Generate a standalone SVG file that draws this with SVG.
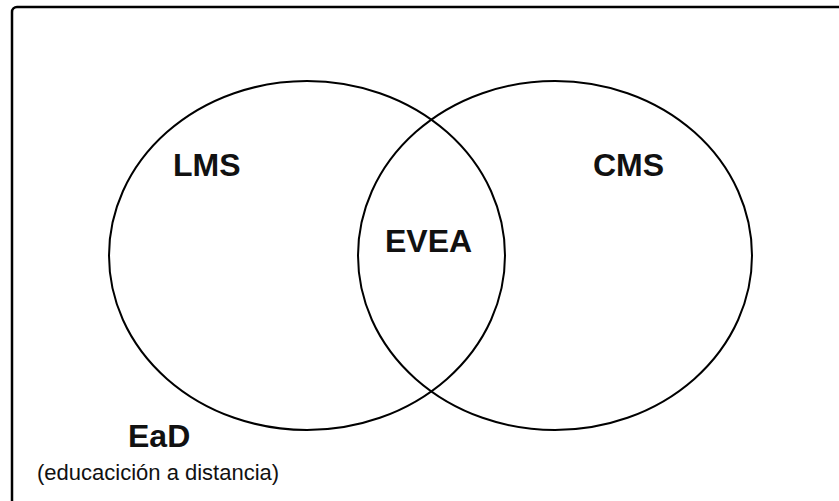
<svg xmlns="http://www.w3.org/2000/svg" width="839" height="501" viewBox="0 0 839 501">
<style>
.set{fill:none;stroke:#000;stroke-width:2}
.lbl{font-family:"Liberation Sans",Arial,sans-serif;font-weight:bold;font-size:32px;fill:#111}
.cap{font-family:"Liberation Sans",Arial,sans-serif;font-size:22px;fill:#111}
</style>
<rect x="0" y="0" width="839" height="501" fill="#fff"/>
<g id="frame">
<rect x="12" y="7" width="840" height="500" rx="5" fill="none" stroke="#000" stroke-width="2.5"/>
<text class="lbl" x="128" y="447">EaD</text>
<text class="cap" x="37" y="480">(educacición a distancia)</text>
</g>
<g id="lms">
<ellipse class="set" cx="307" cy="255.5" rx="198" ry="174.5"/>
<text class="lbl" x="173" y="176">LMS</text>
</g>
<g id="cms">
<ellipse class="set" cx="555" cy="255.5" rx="197" ry="174.5"/>
<text class="lbl" x="593" y="176">CMS</text>
</g>
<g id="evea">
<text class="lbl" x="385" y="252">EVEA</text>
</g>
<g id="connectors"/>
</svg>
